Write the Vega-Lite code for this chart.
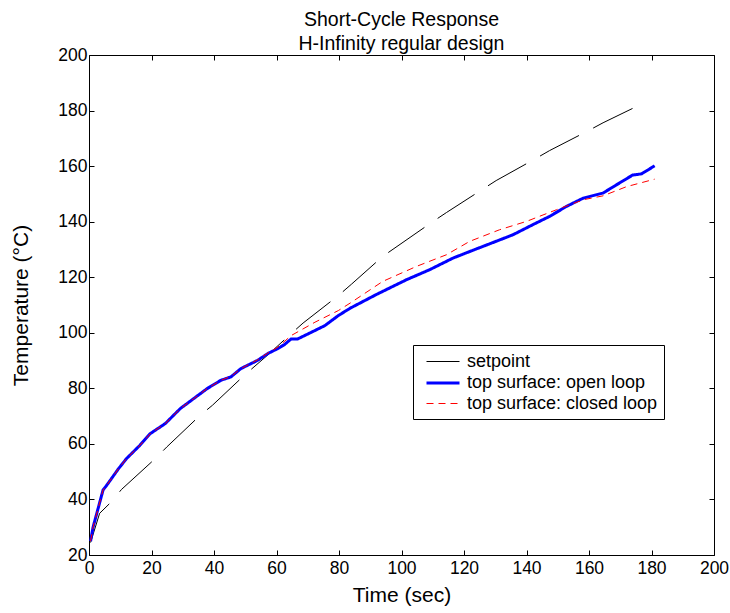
{
  "$schema": "https://vega.github.io/schema/vega-lite/v6.json",
  "width": 625,
  "height": 500,
  "autosize": "none",
  "padding": {"left": 89, "top": 55, "right": 16, "bottom": 58},
  "background": "white",
  "config": {
    "view": {"stroke": null},
    "font": "Liberation Sans",
    "axis": {
      "domainColor": "black",
      "domainWidth": 1,
      "tickColor": "black",
      "tickSize": -5,
      "grid": false,
      "labelFlush": false,
      "labelFont": "Liberation Sans",
      "labelFontSize": 17.5,
      "labelColor": "black",
      "titleFont": "Liberation Sans",
      "titleFontSize": 21,
      "titleFontWeight": "normal",
      "titleColor": "black"
    }
  },
  "title": {
    "text": ["Short-Cycle Response", "H-Infinity regular design"],
    "fontSize": 19.5,
    "fontWeight": "normal",
    "font": "Liberation Sans",
    "lineHeight": 24,
    "offset": -8,
    "color": "black",
    "anchor": "middle",
    "frame": "group"
  },
  "datasets": {
    "curves": [
      {"t": 0.5, "temp": 24.5, "series": "setpoint"},
      {"t": 3.4, "temp": 35, "series": "setpoint"},
      {"t": 7.2, "temp": 39.2, "series": "setpoint"},
      {"t": 10.4, "temp": 43.6, "series": "setpoint"},
      {"t": 21.2, "temp": 54.7, "series": "setpoint"},
      {"t": 24.9, "temp": 58.9, "series": "setpoint"},
      {"t": 35.2, "temp": 69.9, "series": "setpoint"},
      {"t": 39.5, "temp": 73.9, "series": "setpoint"},
      {"t": 49.7, "temp": 84.7, "series": "setpoint"},
      {"t": 57, "temp": 91.8, "series": "setpoint"},
      {"t": 64.7, "temp": 99.7, "series": "setpoint"},
      {"t": 68.5, "temp": 103.5, "series": "setpoint"},
      {"t": 79.8, "temp": 113.4, "series": "setpoint"},
      {"t": 84, "temp": 117.5, "series": "setpoint"},
      {"t": 94, "temp": 127.5, "series": "setpoint"},
      {"t": 109.6, "temp": 139.7, "series": "setpoint"},
      {"t": 114.4, "temp": 143.3, "series": "setpoint"},
      {"t": 126, "temp": 151.7, "series": "setpoint"},
      {"t": 130.3, "temp": 154.8, "series": "setpoint"},
      {"t": 142.6, "temp": 162.5, "series": "setpoint"},
      {"t": 147.4, "temp": 165.6, "series": "setpoint"},
      {"t": 159.7, "temp": 172.7, "series": "setpoint"},
      {"t": 164.5, "temp": 175.6, "series": "setpoint"},
      {"t": 177.3, "temp": 182.6, "series": "setpoint"},

      {"t": 0.5, "temp": 25, "series": "top surface: open loop"},
      {"t": 1.3, "temp": 30, "series": "top surface: open loop"},
      {"t": 4.5, "temp": 43.4, "series": "top surface: open loop"},
      {"t": 5.6, "temp": 45, "series": "top surface: open loop"},
      {"t": 9.4, "temp": 51, "series": "top surface: open loop"},
      {"t": 12, "temp": 54.7, "series": "top surface: open loop"},
      {"t": 16.3, "temp": 59.5, "series": "top surface: open loop"},
      {"t": 19.6, "temp": 63.7, "series": "top surface: open loop"},
      {"t": 24.4, "temp": 67.3, "series": "top surface: open loop"},
      {"t": 29.2, "temp": 72.7, "series": "top surface: open loop"},
      {"t": 33.5, "temp": 76.3, "series": "top surface: open loop"},
      {"t": 37.8, "temp": 79.9, "series": "top surface: open loop"},
      {"t": 42.2, "temp": 82.9, "series": "top surface: open loop"},
      {"t": 45.4, "temp": 84.1, "series": "top surface: open loop"},
      {"t": 48.6, "temp": 87.1, "series": "top surface: open loop"},
      {"t": 54, "temp": 90.1, "series": "top surface: open loop"},
      {"t": 57.2, "temp": 92.5, "series": "top surface: open loop"},
      {"t": 60.4, "temp": 94.3, "series": "top surface: open loop"},
      {"t": 62.6, "temp": 95.8, "series": "top surface: open loop"},
      {"t": 64.7, "temp": 97.8, "series": "top surface: open loop"},
      {"t": 66.8, "temp": 97.8, "series": "top surface: open loop"},
      {"t": 71.2, "temp": 100.2, "series": "top surface: open loop"},
      {"t": 75.5, "temp": 102.6, "series": "top surface: open loop"},
      {"t": 79.8, "temp": 106.2, "series": "top surface: open loop"},
      {"t": 83.5, "temp": 108.8, "series": "top surface: open loop"},
      {"t": 92, "temp": 113.8, "series": "top surface: open loop"},
      {"t": 101.6, "temp": 119.1, "series": "top surface: open loop"},
      {"t": 109, "temp": 122.7, "series": "top surface: open loop"},
      {"t": 116.5, "temp": 126.9, "series": "top surface: open loop"},
      {"t": 124, "temp": 130.2, "series": "top surface: open loop"},
      {"t": 129.3, "temp": 132.5, "series": "top surface: open loop"},
      {"t": 135.7, "temp": 135.3, "series": "top surface: open loop"},
      {"t": 142, "temp": 138.9, "series": "top surface: open loop"},
      {"t": 147.4, "temp": 141.9, "series": "top surface: open loop"},
      {"t": 152.8, "temp": 145.5, "series": "top surface: open loop"},
      {"t": 158.2, "temp": 148.5, "series": "top surface: open loop"},
      {"t": 164.5, "temp": 150.3, "series": "top surface: open loop"},
      {"t": 168.7, "temp": 153.2, "series": "top surface: open loop"},
      {"t": 174, "temp": 156.8, "series": "top surface: open loop"},
      {"t": 176.8, "temp": 157.2, "series": "top surface: open loop"},
      {"t": 181, "temp": 160.1, "series": "top surface: open loop"},

      {"t": 0.5, "temp": 25, "series": "top surface: closed loop"},
      {"t": 1.3, "temp": 30, "series": "top surface: closed loop"},
      {"t": 4.5, "temp": 43.4, "series": "top surface: closed loop"},
      {"t": 5.6, "temp": 45, "series": "top surface: closed loop"},
      {"t": 9.4, "temp": 51, "series": "top surface: closed loop"},
      {"t": 12, "temp": 54.7, "series": "top surface: closed loop"},
      {"t": 16.3, "temp": 59.5, "series": "top surface: closed loop"},
      {"t": 19.6, "temp": 63.7, "series": "top surface: closed loop"},
      {"t": 24.4, "temp": 67.3, "series": "top surface: closed loop"},
      {"t": 29.2, "temp": 72.7, "series": "top surface: closed loop"},
      {"t": 33.5, "temp": 76.3, "series": "top surface: closed loop"},
      {"t": 37.8, "temp": 79.9, "series": "top surface: closed loop"},
      {"t": 42.2, "temp": 82.9, "series": "top surface: closed loop"},
      {"t": 45.4, "temp": 84.3, "series": "top surface: closed loop"},
      {"t": 48.6, "temp": 87.1, "series": "top surface: closed loop"},
      {"t": 54, "temp": 90.3, "series": "top surface: closed loop"},
      {"t": 57.2, "temp": 92.7, "series": "top surface: closed loop"},
      {"t": 60.4, "temp": 94.8, "series": "top surface: closed loop"},
      {"t": 64.7, "temp": 99, "series": "top surface: closed loop"},
      {"t": 72.3, "temp": 103.8, "series": "top surface: closed loop"},
      {"t": 79.8, "temp": 108, "series": "top surface: closed loop"},
      {"t": 84, "temp": 111, "series": "top surface: closed loop"},
      {"t": 94, "temp": 118.5, "series": "top surface: closed loop"},
      {"t": 104.8, "temp": 123.9, "series": "top surface: closed loop"},
      {"t": 114.4, "temp": 128.1, "series": "top surface: closed loop"},
      {"t": 121.8, "temp": 132.9, "series": "top surface: closed loop"},
      {"t": 131.4, "temp": 137.1, "series": "top surface: closed loop"},
      {"t": 140, "temp": 140.1, "series": "top surface: closed loop"},
      {"t": 149.6, "temp": 144.3, "series": "top surface: closed loop"},
      {"t": 158.2, "temp": 147.9, "series": "top surface: closed loop"},
      {"t": 164.5, "temp": 149.3, "series": "top surface: closed loop"},
      {"t": 172, "temp": 152.6, "series": "top surface: closed loop"},
      {"t": 181, "temp": 155.3, "series": "top surface: closed loop"}
    ]
  },
  "data": {"name": "curves"},
  "encoding": {
    "color": {
      "field": "series",
      "type": "nominal",
      "scale": {
        "domain": ["setpoint", "top surface: open loop", "top surface: closed loop"],
        "range": ["black", "#0000ff", "#ff0000"]
      },
      "legend": {
        "orient": "none",
        "legendX": 324,
        "legendY": 290,
        "title": null,
        "strokeColor": "black",
        "fillColor": "white",
        "padding": 6,
        "symbolType": "M-1.65,0H1.65",
        "symbolSize": 400,
        "symbolOffset": 12.5,
        "labelFontSize": 18,
        "labelFont": "Liberation Sans",
        "labelColor": "black",
        "labelLimit": 400,
        "labelOffset": 12.5,
        "rowPadding": 0.5
      }
    },
    "strokeWidth": {
      "field": "series",
      "type": "nominal",
      "scale": {
        "type": "ordinal",
        "domain": ["setpoint", "top surface: open loop", "top surface: closed loop"],
        "range": [1, 3, 1]
      }
    },
    "strokeDash": {
      "field": "series",
      "type": "nominal",
      "scale": {
        "domain": ["setpoint", "top surface: open loop", "top surface: closed loop"],
        "range": [[44, 16], [1, 0], [7, 5]]
      }
    }
  },
  "layer": [
    {
      "transform": [{"filter": "datum.series === 'setpoint'"}],
      "mark": {"type": "line"},
      "encoding": {
        "x": {
          "field": "t",
          "type": "quantitative",
          "scale": {"domain": [0, 200], "nice": false},
          "axis": {
            "orient": "bottom",
            "values": [0, 20, 40, 60, 80, 100, 120, 140, 160, 180, 200],
            "title": "Time (sec)",
            "labelPadding": 9,
            "titlePadding": 8
          }
        },
        "y": {
          "field": "temp",
          "type": "quantitative",
          "scale": {"domain": [20, 200], "nice": false},
          "axis": {
            "orient": "left",
            "values": [20, 40, 60, 80, 100, 120, 140, 160, 180, 200],
            "title": "Temperature (°C)",
            "labelPadding": 7,
            "titlePadding": 26
          }
        }
      }
    },
    {
      "transform": [{"filter": "datum.series === 'top surface: open loop'"}],
      "mark": {"type": "line"},
      "encoding": {
        "x": {
          "field": "t",
          "type": "quantitative",
          "axis": {
            "orient": "top",
            "values": [0, 20, 40, 60, 80, 100, 120, 140, 160, 180, 200],
            "labels": false,
            "title": null
          }
        },
        "y": {
          "field": "temp",
          "type": "quantitative",
          "axis": {
            "orient": "right",
            "values": [20, 40, 60, 80, 100, 120, 140, 160, 180, 200],
            "labels": false,
            "title": null
          }
        }
      }
    },
    {
      "transform": [{"filter": "datum.series === 'top surface: closed loop'"}],
      "mark": {"type": "line"},
      "encoding": {
        "x": {"field": "t", "type": "quantitative", "axis": null},
        "y": {"field": "temp", "type": "quantitative", "axis": null}
      }
    }
  ],
  "resolve": {"axis": {"x": "independent", "y": "independent"}}
}
